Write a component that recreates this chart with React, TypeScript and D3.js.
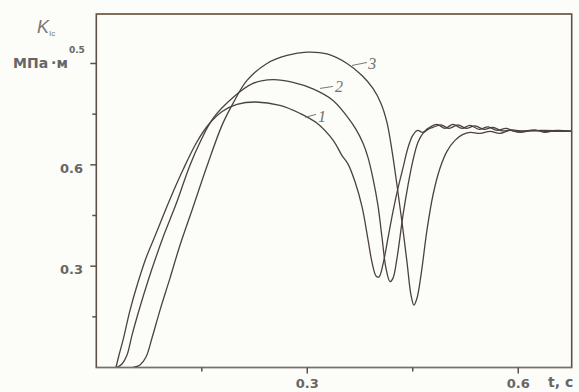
import React from "react";
import * as d3 from "d3";

const W = 579;
const H = 392;

// data: [t (s), K (MPa·m^0.5)]
const curve1: [number, number][] = [
  [0.028, 0], [0.0323, 0.037], [0.038, 0.081], [0.048, 0.17], [0.059, 0.25],
  [0.0707, 0.324], [0.0835, 0.389], [0.0948, 0.448], [0.109, 0.519], [0.123, 0.584],
  [0.142, 0.664], [0.16, 0.72], [0.179, 0.758], [0.2, 0.779], [0.227, 0.786],
  [0.261, 0.776], [0.29, 0.752], [0.314, 0.723], [0.3366, 0.673], [0.349, 0.629],
  [0.358, 0.602], [0.368, 0.549], [0.378, 0.475], [0.386, 0.383], [0.392, 0.312],
  [0.398, 0.27], [0.402, 0.268], [0.408, 0.309], [0.415, 0.386], [0.422, 0.463],
  [0.429, 0.531], [0.436, 0.59], [0.443, 0.649], [0.45, 0.687], [0.457, 0.702],
  [0.464, 0.696], [0.4717, 0.708], [0.4844, 0.7198], [0.4958, 0.708], [0.5072, 0.7198],
  [0.52, 0.708], [0.5314, 0.7169], [0.5442, 0.705], [0.557, 0.7125], [0.5698, 0.702],
  [0.5826, 0.708], [0.5953, 0.699], [0.6167, 0.702], [0.638, 0.699], [0.675, 0.7],
];

const curve2: [number, number][] = [
  [0.0294, 0], [0.0365, 0.0103], [0.0437, 0.037], [0.0508, 0.096], [0.0621, 0.179],
  [0.0735, 0.256], [0.0849, 0.327], [0.0977, 0.401], [0.1133, 0.483], [0.1332, 0.599],
  [0.1475, 0.667], [0.166, 0.7375], [0.1944, 0.7996], [0.2228, 0.841], [0.2512, 0.852],
  [0.2797, 0.844], [0.3081, 0.8247], [0.3366, 0.7907], [0.3565, 0.7435], [0.3693, 0.705],
  [0.3793, 0.6637], [0.3863, 0.6222], [0.3934, 0.5602], [0.4005, 0.48], [0.4062, 0.3858],
  [0.4119, 0.294], [0.4176, 0.254], [0.4219, 0.2646], [0.4276, 0.3237], [0.4361, 0.4508],
  [0.4432, 0.5395], [0.4503, 0.6134], [0.4574, 0.6666], [0.4645, 0.6932], [0.4717, 0.705],
  [0.4787, 0.711], [0.4901, 0.7183], [0.5015, 0.708], [0.5143, 0.7183], [0.5257, 0.708],
  [0.5385, 0.7154], [0.5513, 0.705], [0.5641, 0.711], [0.5769, 0.7006], [0.5911, 0.7036],
  [0.6096, 0.699], [0.6309, 0.702], [0.675, 0.7],
];

const curve3: [number, number][] = [
  [0.0522, 0], [0.0621, 0.0074], [0.0707, 0.031], [0.0792, 0.0872], [0.0906, 0.17],
  [0.1048, 0.2646], [0.119, 0.362], [0.1361, 0.4656], [0.1588, 0.6045], [0.1787, 0.7168],
  [0.1944, 0.7819], [0.2143, 0.8498], [0.2427, 0.9001], [0.2712, 0.9237], [0.2996, 0.9335],
  [0.328, 0.9282], [0.3565, 0.9001], [0.3778, 0.8646], [0.3934, 0.8262], [0.4048, 0.7819],
  [0.4133, 0.7257], [0.4204, 0.6429], [0.4276, 0.5395], [0.4347, 0.4301], [0.4418, 0.3119],
  [0.4475, 0.2143], [0.4517, 0.1847], [0.456, 0.2054], [0.4617, 0.2734], [0.4702, 0.4064],
  [0.4787, 0.5099], [0.4887, 0.5897], [0.4986, 0.64], [0.51, 0.6725], [0.5214, 0.69],
  [0.5314, 0.696], [0.5456, 0.693], [0.5598, 0.699], [0.574, 0.693], [0.5882, 0.702],
  [0.6025, 0.696], [0.6238, 0.7036], [0.638, 0.696], [0.6536, 0.702], [0.675, 0.7],
];

const curves = [curve1, curve2, curve3];
const curveLabels = ["1", "2", "3"];
// leader line [from, to] and label anchor, in data units
const leaderFrom: [number, number][] = [[0.2967, 0.7405], [0.3181, 0.8262], [0.3636, 0.8942]];
const leaderTo: [number, number][] = [[0.3124, 0.7493], [0.3366, 0.8321], [0.3849, 0.903]];
const labelAt: [number, number][] = [[0.3152, 0.7257], [0.3394, 0.8143], [0.3866, 0.8824]];

const xMajor = [0.3, 0.6];
const xMinor = [0.15, 0.45];
const xTickLabels = ["0.3", "0.6"];
const yMajor = [0.3, 0.6, 0.9];
const yMinor = [0.15, 0.45, 0.75];
const yTickLabels = ["0.3", "0.6", ""];

const left = 96.3;
const right = 571.7;
const top = 14;
const bottom = 367.5;

export default function App() {
  const x = d3.scaleLinear().domain([0, 0.676]).range([left, right]);
  const y = d3.scaleLinear().domain([0, 1.0465]).range([bottom, top]);
  const line = d3
    .line<[number, number]>()
    .x((d) => x(d[0]))
    .y((d) => y(d[1]))
    .curve(d3.curveCatmullRom.alpha(0.5));

  const lineColor = "#4a4242";
  const axisColor = "#5a5048";
  const textColor = "#666";
  const tickFont = "'DejaVu Sans', Verdana, sans-serif";

  return (
    <svg
      width={W}
      height={H}
      style={{ position: "absolute", left: 0, top: 0, background: "#fcfcf9" }}
    >
      <rect x={0} y={0} width={W} height={H} fill="#fcfcf9" />
      {/* curves */}
      {curves.map((c, i) => (
        <path key={i} d={line(c) || ""} fill="none" stroke={lineColor} strokeWidth={1.3} />
      ))}
      {/* leaders + labels */}
      {curveLabels.map((lab, i) => (
        <g key={lab}>
          <line
            x1={x(leaderFrom[i][0])}
            y1={y(leaderFrom[i][1])}
            x2={x(leaderTo[i][0])}
            y2={y(leaderTo[i][1])}
            stroke="#777"
            strokeWidth={1}
          />
          <text
            x={x(labelAt[i][0])}
            y={y(labelAt[i][1])}
            fontFamily="'Liberation Serif', 'Times New Roman', serif"
            fontStyle="italic"
            fontSize={16}
            fill="#707070"
          >
            {lab}
          </text>
        </g>
      ))}
      {/* frame */}
      <rect
        x={left}
        y={top}
        width={right - left}
        height={bottom - top}
        fill="none"
        stroke={axisColor}
        strokeWidth={1.6}
      />
      <line x1={left} x2={right} y1={top} y2={top} stroke="#8a6a50" strokeWidth={1.2} />
      <line x1={left} x2={right} y1={bottom} y2={bottom} stroke="#8a6a50" strokeWidth={1.2} />
      {/* x ticks */}
      {xMajor.map((t, i) => (
        <g key={"xm" + t}>
          <line x1={x(t)} x2={x(t)} y1={bottom} y2={bottom + 6} stroke={axisColor} strokeWidth={1.5} />
          <text
            x={x(t)}
            y={388}
            textAnchor="middle"
            fontFamily={tickFont}
            fontWeight="bold"
            fontSize={13}
            fill={textColor}
          >
            {xTickLabels[i]}
          </text>
        </g>
      ))}
      {xMinor.map((t) => (
        <line key={"xn" + t} x1={x(t)} x2={x(t)} y1={bottom} y2={bottom + 4} stroke={axisColor} strokeWidth={1.5} />
      ))}
      <text x={548} y={387} fontFamily={tickFont} fontWeight="bold" fontSize={14} fill={textColor}>
        t, c
      </text>
      {/* y ticks */}
      {yMajor.map((v, i) => (
        <g key={"ym" + v}>
          <line x1={left - 6} x2={left} y1={y(v)} y2={y(v)} stroke={axisColor} strokeWidth={1.5} />
          {yTickLabels[i] && (
            <text
              x={83}
              y={y(v) + 8}
              textAnchor="end"
              fontFamily={tickFont}
              fontWeight="bold"
              fontSize={13}
              fill={textColor}
            >
              {yTickLabels[i]}
            </text>
          )}
        </g>
      ))}
      {yMinor.map((v) => (
        <line key={"yn" + v} x1={left - 4} x2={left} y1={y(v)} y2={y(v)} stroke={axisColor} strokeWidth={1.5} />
      ))}
      {/* y axis title */}
      <text x={37} y={33} fontFamily="'Liberation Sans', Arial, sans-serif" fontStyle="italic" fontSize={18} fill="#777">
        K
        <tspan fontSize={8} dy={3} fontStyle="normal">
          Iс
        </tspan>
      </text>
      <text x={13} y={68} fontFamily={tickFont} fontWeight="bold" fontSize={14} fill={textColor}>
        МПа
        <tspan dx={3}>·м</tspan>
        <tspan fontSize={9} dy={-15} dx={1}>
          0.5
        </tspan>
      </text>
    </svg>
  );
}
